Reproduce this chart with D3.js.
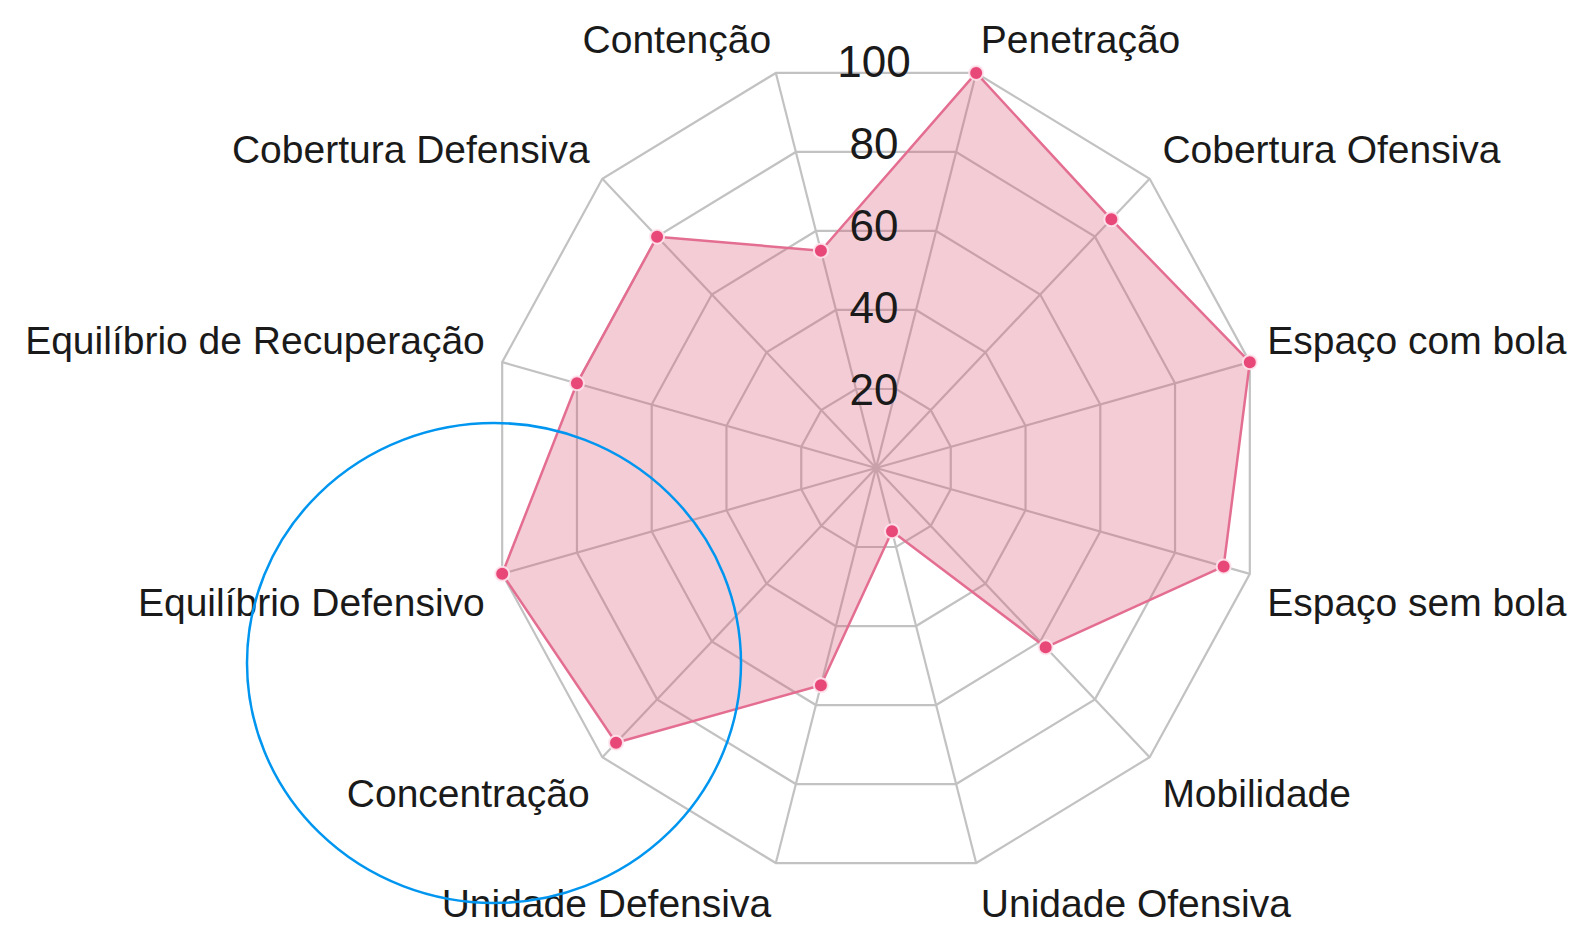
<!DOCTYPE html>
<html>
<head>
<meta charset="utf-8">
<script src="https://cdn.jsdelivr.net/npm/d3@7"></script>
<style>
  html, body { margin: 0; padding: 0; background: #fff; }
  svg { display: block; font-family: "Liberation Sans", Arial, Helvetica, sans-serif; }
</style>
</head>
<body>
<script>
// axes, clockwise from the top
let labels = ['Penetração', 'Cobertura Ofensiva', 'Espaço com bola', 'Espaço sem bola',
  'Mobilidade', 'Unidade Ofensiva', 'Unidade Defensiva', 'Concentração',
  'Equilíbrio Defensivo', 'Equilíbrio de Recuperação', 'Cobertura Defensiva', 'Contenção']
let values = [100, 86, 100, 93, 62, 16, 55, 95, 100, 80, 80, 55]
let ticks = [20, 40, 60, 80, 100]

let width = 1573
let height = 929
let cx = 876
let cy = 468

let svg = d3.select('body').append('svg')
  .attr('width', width)
  .attr('height', height)

// the picture is a little narrower than it is tall
let rx = d3.scaleLinear().domain([0, 100]).range([0, 387])
let ry = d3.scaleLinear().domain([0, 100]).range([0, 409])
let angle = d3.scaleLinear().domain([0, labels.length]).range([Math.PI / 12, Math.PI / 12 + 2 * Math.PI])

function pos(i, v) {
  let a = angle(i)
  return [cx + rx(v) * Math.sin(a), cy - ry(v) * Math.cos(a)]
}

let grid = svg.append('g')

// rings
grid.selectAll('.ring')
  .data(ticks)
  .enter()
  .append('polygon')
  .attr('class', 'ring')
  .attr('points', t => labels.map((l, i) => pos(i, t).join(',')).join(' '))
  .attr('fill', 'none')
  .attr('stroke', '#c2c2c2')
  .attr('stroke-width', 2.2)

// spokes
grid.selectAll('.spoke')
  .data(labels)
  .enter()
  .append('line')
  .attr('class', 'spoke')
  .attr('x1', cx)
  .attr('y1', cy)
  .attr('x2', (d, i) => pos(i, 100)[0])
  .attr('y2', (d, i) => pos(i, 100)[1])
  .attr('stroke', '#c2c2c2')
  .attr('stroke-width', 2.2)

// data area
svg.append('polygon')
  .attr('points', values.map((v, i) => pos(i, v).join(',')).join(' '))
  .attr('fill', 'rgba(215, 85, 118, 0.3)')
  .attr('stroke', 'rgb(228, 110, 145)')
  .attr('stroke-width', 2.5)
  .attr('stroke-linejoin', 'round')

svg.selectAll('.dot')
  .data(values)
  .enter()
  .append('circle')
  .attr('class', 'dot')
  .attr('cx', (v, i) => pos(i, v)[0])
  .attr('cy', (v, i) => pos(i, v)[1])
  .attr('r', 7)
  .attr('fill', 'rgb(232, 72, 120)')
  .attr('stroke', 'rgba(255, 230, 238, 0.9)')
  .attr('stroke-width', 2)

// tick labels on the vertical line
svg.selectAll('.tick')
  .data(ticks)
  .enter()
  .append('text')
  .attr('class', 'tick')
  .attr('x', cx - 2)
  .attr('y', t => cy - ry(t) + 3)
  .attr('dy', '0.35em')
  .attr('text-anchor', 'middle')
  .attr('font-size', 44)
  .attr('fill', '#1a1a1a')
  .text(t => t)

// axis labels
svg.selectAll('.label')
  .data(labels)
  .enter()
  .append('text')
  .attr('class', 'label')
  .attr('x', (d, i) => cx + (rx(100) + 18) * Math.sin(angle(i)))
  .attr('y', (d, i) => {
    let c = Math.cos(angle(i))
    let y = cy - (ry(100) + 18) * c
    return c > 0 ? y - 3 : y + 37
  })
  .attr('text-anchor', (d, i) => Math.sin(angle(i)) > 0 ? 'start' : 'end')
  .attr('font-size', 39)
  .attr('fill', '#1a1a1a')
  .text(d => d)

// blue annotation ring
svg.append('ellipse')
  .attr('cx', 494)
  .attr('cy', 663)
  .attr('rx', 247)
  .attr('ry', 240)
  .attr('fill', 'none')
  .attr('stroke', 'rgb(0, 150, 240)')
  .attr('stroke-width', 2.5)
</script>
</body>
</html>
